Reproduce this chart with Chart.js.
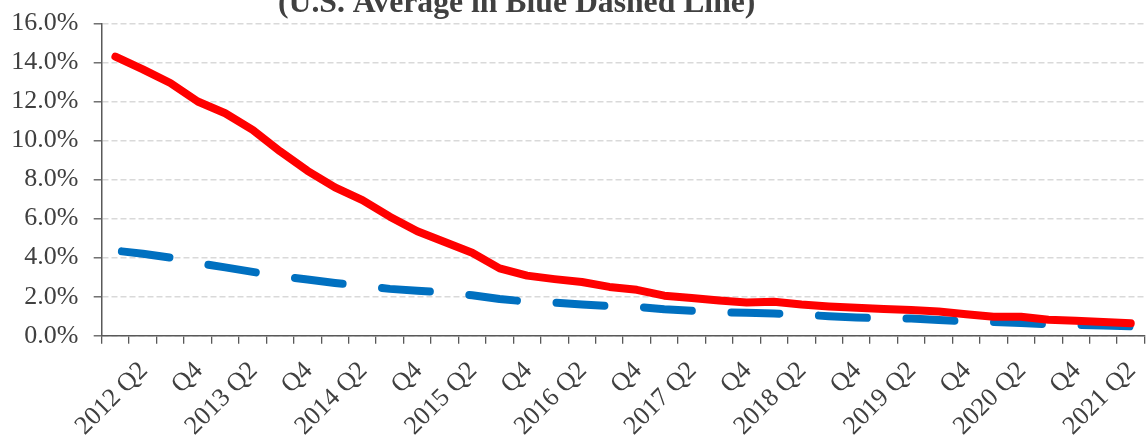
<!DOCTYPE html>
<html>
<head>
<meta charset="utf-8">
<script src="https://cdn.jsdelivr.net/npm/chart.js@4"></script>
<style>
  html, body { margin: 0; padding: 0; background: #ffffff; overflow: hidden; width: 1148px; height: 436px; }
  #wrap { position: absolute; left: 0; top: -30px; width: 1165px; height: 466px; }
  canvas { display: block; }
</style>
</head>
<body>
<div id="wrap"><canvas id="c" width="1165" height="466"></canvas></div>
<script>
// Quarterly categories, 2012 Q1 .. 2021 Q2
const quarters = [
  "2012 Q1","2012 Q2","2012 Q3","2012 Q4",
  "2013 Q1","2013 Q2","2013 Q3","2013 Q4",
  "2014 Q1","2014 Q2","2014 Q3","2014 Q4",
  "2015 Q1","2015 Q2","2015 Q3","2015 Q4",
  "2016 Q1","2016 Q2","2016 Q3","2016 Q4",
  "2017 Q1","2017 Q2","2017 Q3","2017 Q4",
  "2018 Q1","2018 Q2","2018 Q3","2018 Q4",
  "2019 Q1","2019 Q2","2019 Q3","2019 Q4",
  "2020 Q1","2020 Q2","2020 Q3","2020 Q4",
  "2021 Q1","2021 Q2"
];
// Axis tick labels as printed (Q1 / Q3 unlabeled)
const tickLabels = [
  "","2012 Q2","","Q4","","2013 Q2","","Q4","","2014 Q2","","Q4","","2015 Q2","","Q4",
  "","2016 Q2","","Q4","","2017 Q2","","Q4","","2018 Q2","","Q4","","2019 Q2","","Q4",
  "","2020 Q2","","Q4","","2021 Q2"
];
// Red solid line (percent)
const redSeries = [
  14.3, 13.65, 12.95, 12.0, 11.4, 10.55, 9.45, 8.45, 7.6, 6.95,
  6.1, 5.35, 4.8, 4.25, 3.45, 3.08, 2.9, 2.75, 2.5, 2.35,
  2.05, 1.93, 1.8, 1.7, 1.74, 1.6, 1.5, 1.43, 1.37, 1.32,
  1.24, 1.1, 0.97, 0.97, 0.82, 0.76, 0.7, 0.64
];
// U.S. average, blue dashed line (percent)
const usAverage = [
  4.36, 4.2, 4.0, 3.72, 3.5, 3.27, 3.05, 2.88, 2.7, 2.55,
  2.4, 2.3, 2.22, 2.07, 1.88, 1.75, 1.7, 1.6, 1.52, 1.48,
  1.36, 1.28, 1.2, 1.17, 1.14, 1.08, 1.0, 0.93, 0.89, 0.88,
  0.8, 0.74, 0.7, 0.65, 0.58, 0.55, 0.52, 0.48
];
const yTickValues = [0, 2, 4, 6, 8, 10, 12, 14, 16];
const titleText = "(U.S. Average in Blue Dashed Line)";

const FONT = "'Liberation Serif', 'Times New Roman', serif";
const TEXT = "#404040";
const AXIS = "#595959";

const titlePlugin = {
  id: 'cutTitle',
  afterDraw(chart) {
    const ctx = chart.ctx;
    ctx.save();
    ctx.font = "bold 31.7px " + FONT;
    ctx.fillStyle = TEXT;
    ctx.textAlign = 'center';
    ctx.textBaseline = 'alphabetic';
    ctx.fillText(titleText, 516.7, 41.7);
    ctx.restore();
  }
};

new Chart(document.getElementById('c'), {
  type: 'line',
  data: {
    labels: quarters,
    datasets: [
      {
        label: 'Rate',
        data: redSeries,
        borderColor: '#FF0000',
        backgroundColor: '#FF0000',
        borderWidth: 8,
        borderCapStyle: 'round',
        borderJoinStyle: 'round',
        pointRadius: 0,
        tension: 0,
        fill: false
      },
      {
        label: 'U.S. Average',
        data: usAverage,
        borderColor: '#0070C0',
        backgroundColor: '#0070C0',
        borderWidth: 8,
        borderDash: [48, 39.6],
        borderDashOffset: 81.1,
        borderCapStyle: 'round',
        borderJoinStyle: 'round',
        pointRadius: 0,
        tension: 0,
        fill: false
      }
    ]
  },
  options: {
    responsive: false,
    devicePixelRatio: 1,
    animation: false,
    layout: { padding: { top: 53.5, right: 12.6, bottom: 0, left: 0 } },
    plugins: {
      legend: { display: false },
      tooltip: { enabled: false },
      title: { display: false }
    },
    scales: {
      x: {
        type: 'category',
        offset: true,
        grid: {
          display: true,
          offset: true,
          drawOnChartArea: false,
          drawTicks: true,
          tickLength: 8,
          tickColor: AXIS,
          tickWidth: 1.3,
          tickBorderDash: [],
          lineWidth: 1.3
        },
        border: { display: true, color: AXIS, width: 1.5 },
        ticks: {
          autoSkip: false,
          minRotation: 45,
          maxRotation: 45,
          padding: 12,
          labelOffset: 1,
          color: TEXT,
          font: { family: FONT, size: 26 },
          callback: (v, i) => tickLabels[i]
        },
        afterFit: (scale) => { scale.height = 100.3; }
      },
      y: {
        min: 0,
        max: 16,
        afterBuildTicks: (scale) => { scale.ticks = yTickValues.map(v => ({ value: v })); },
        grid: {
          color: '#D9D9D9',
          lineWidth: 1.6,
          drawTicks: true,
          tickLength: 8,
          tickColor: AXIS,
          tickWidth: 1.3,
          tickBorderDash: []
        },
        border: { display: true, color: AXIS, width: 1.5, dash: [6, 3] },
        ticks: {
          padding: 15.2,
          color: TEXT,
          font: { family: FONT, size: 26 },
          callback: (v) => v.toFixed(1) + '%'
        },
        afterFit: (scale) => { scale.width = 101.7; }
      }
    }
  },
  plugins: [titlePlugin]
});
</script>
</body>
</html>
